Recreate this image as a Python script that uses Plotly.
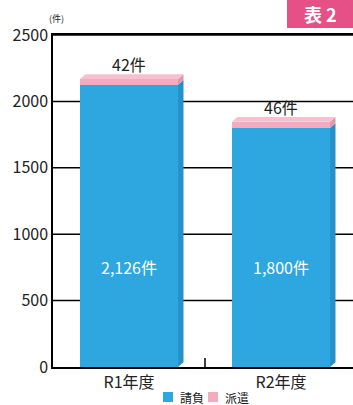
import plotly.graph_objects as go

categories = ["R1年度", "R2年度"]
ukeoi = [2126, 1800]
haken = [42, 46]
ukeoi_labels = ["2,126件", "1,800件"]
haken_labels = ["42件", "46件"]
series_names = ["請負", "派遣"]
y_ticks = [0, 500, 1000, 1500, 2000, 2500]

BLUE = "rgb(46,166,223)"
BLUE_SIDE = "rgb(38,145,200)"
PINK = "rgb(242,172,192)"
PINK_TOP = "rgb(246,192,208)"
PINK_SIDE = "rgb(226,150,172)"
FONT = "Noto Sans CJK JP"
PH = 332.0  # plot height in px
PW = 300.0

bar_w = 0.645
dx = 0.036
dy = 36

fig = go.Figure()
fig.add_trace(go.Bar(x=list(range(len(categories))), y=ukeoi, name=series_names[0],
                     marker=dict(color=BLUE, line=dict(width=0)), width=bar_w))
fig.add_trace(go.Bar(x=list(range(len(categories))), y=haken, name=series_names[1],
                     marker=dict(color=PINK, line=dict(width=0)), width=bar_w))

shapes = []
for t in y_ticks[1:]:
    shapes.append(dict(type="line", xref="paper", yref="y", x0=0, x1=1, y0=t, y1=t,
                       line=dict(color="black", width=1.5), layer="below"))
annotations = []
for i, (u, h) in enumerate(zip(ukeoi, haken)):
    x0 = i - bar_w / 2
    x1 = i + bar_w / 2
    top = u + h
    shapes.append(dict(type="path", xref="x", yref="y",
                       path=f"M {x1},0 L {x1+dx},{dy} L {x1+dx},{u+dy} L {x1},{u} Z",
                       fillcolor=BLUE_SIDE, line=dict(width=0)))
    shapes.append(dict(type="path", xref="x", yref="y",
                       path=f"M {x1},{u} L {x1+dx},{u+dy} L {x1+dx},{top+dy} L {x1},{top} Z",
                       fillcolor=PINK_SIDE, line=dict(width=0)))
    shapes.append(dict(type="path", xref="x", yref="y",
                       path=f"M {x0},{top} L {x0+dx},{top+dy} L {x1+dx},{top+dy} L {x1},{top} Z",
                       fillcolor=PINK_TOP, line=dict(width=0)))
    annotations.append(dict(x=i, y=top + dy, xref="x", yref="y", text=haken_labels[i],
                            showarrow=False, yanchor="bottom", yshift=-4,
                            font=dict(family=FONT, size=16, color="#222")))
    annotations.append(dict(x=i, y=750, xref="x", yref="y", text=ukeoi_labels[i],
                            showarrow=False, font=dict(family=FONT, size=16, color="white")))

# badge
shapes.append(dict(type="rect", xref="paper", yref="paper", x0=234 / PW, x1=1.0,
                   y0=1 + 7 / PH, y1=1 + 36 / PH, fillcolor="rgb(229,80,135)",
                   line=dict(width=0)))
annotations.append(dict(x=(234 + 300) / 2 / PW, y=1 + 21 / PH, xref="paper", yref="paper",
                        text="<b>表 2</b>", showarrow=False, xanchor="center", yanchor="middle",
                        font=dict(family=FONT, size=18, color="white")))
annotations.append(dict(x=-0.02, y=1 + 8 / PH, xref="paper", yref="paper", text="(件)",
                        showarrow=False, yanchor="bottom", xanchor="left",
                        font=dict(family=FONT, size=9, color="#222")))

# custom legend
leg_cols = [BLUE, PINK]
leg_x = [110, 155]  # px from plot left
for name, col, lx in zip(series_names, leg_cols, leg_x):
    shapes.append(dict(type="rect", xref="paper", yref="paper",
                       x0=lx / PW, x1=(lx + 10) / PW, y0=-35 / PH, y1=-25 / PH,
                       fillcolor=col, line=dict(width=0)))
    annotations.append(dict(x=(lx + 15) / PW, y=-30 / PH, xref="paper", yref="paper",
                            text=name, showarrow=False, xanchor="left", yanchor="middle",
                            font=dict(family=FONT, size=12, color="#222")))

# category boundary tick (inside only)
shapes.append(dict(type="line", xref="x", yref="paper", x0=0.5, x1=0.5, y0=0, y1=9 / PH,
                   line=dict(color="black", width=1.5)))

fig.update_layout(
    width=353, height=405,
    margin=dict(l=53, r=0, t=35, b=38),
    paper_bgcolor="white", plot_bgcolor="white",
    barmode="stack", bargap=0,
    showlegend=False,
    xaxis=dict(range=[-0.5, -0.5 + PW / 152], tickmode="array",
               tickvals=list(range(len(categories))), ticktext=categories,
               showline=True, linecolor="black", linewidth=1.5, mirror=True,
               showgrid=False, zeroline=False, ticks="",
               tickfont=dict(family=FONT, size=16, color="#222")),
    yaxis=dict(range=[0, 2500], tickvals=y_ticks, showgrid=False, zeroline=False,
               showline=True, linecolor="black", linewidth=1.5, ticks="",
               tickfont=dict(family=FONT, size=16, color="#222")),
    shapes=shapes, annotations=annotations,
)

fig.write_html("out.html")
